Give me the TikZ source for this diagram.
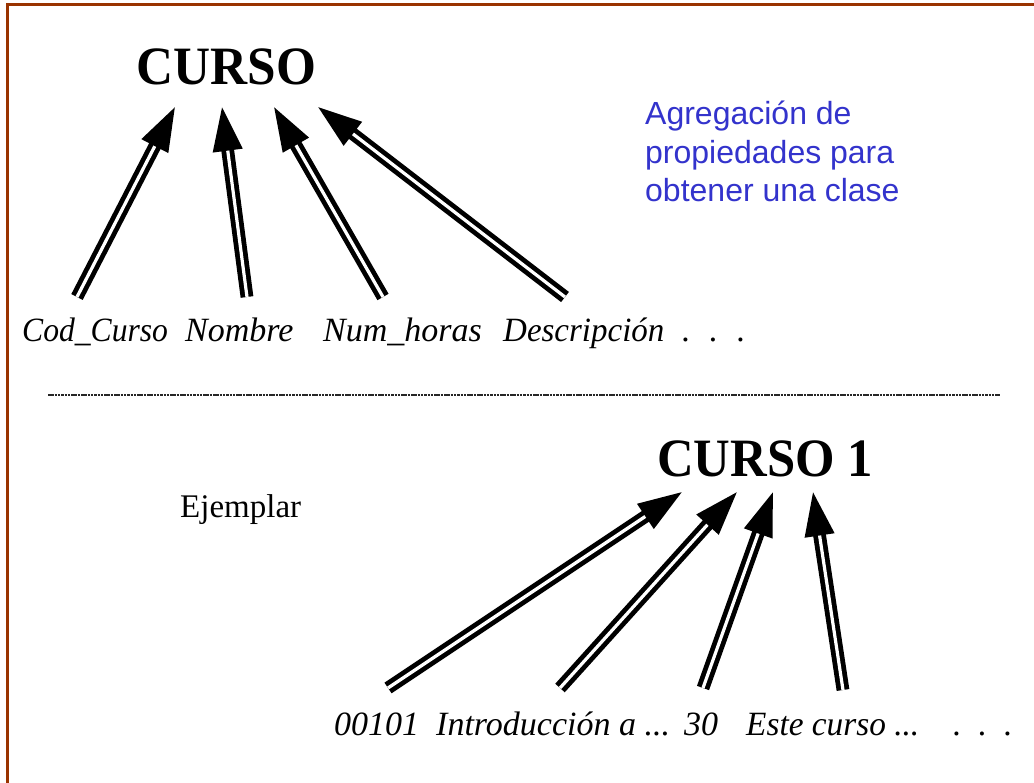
\documentclass[tikz,border=0pt]{standalone}
\usepackage{fontspec}
\setmainfont{Liberation Serif}
\newfontfamily\bluefont{Liberation Sans}
\usetikzlibrary{arrows.meta}
\definecolor{framecol}{RGB}{153,51,0}
\definecolor{bluetxt}{RGB}{51,51,204}
\begin{document}
\begin{tikzpicture}[x=1pt,y=-1pt,
  conn/.style={double, double distance=3.2pt, line width=4.8pt, -{Triangle[length=44pt,width=29pt]}},
  titlefont/.style={font=\fontsize{54}{60}\selectfont\bfseries, inner sep=0, anchor=base},
  lbl/.style={font=\fontsize{34}{40}\selectfont\itshape, inner sep=0, anchor=base west},
  plain/.style={font=\fontsize{33}{40}\selectfont, inner sep=0, anchor=base west}]
\useasboundingbox (0,0) rectangle (1034,783);
\draw[framecol, line width=3pt] (7.3,790) -- (7.3,5) -- (1040,5);

% class
\node[titlefont] (curso) at (226.5,85) {\scalebox{0.95}[1]{CURSO}};
\node[lbl] (cod) at (22,342) {\scalebox{0.93}[1]{Cod\_Curso}};
\node[lbl] (nom) at (185,342) {Nombre};
\node[lbl] (num) at (323,342) {Num\_horas};
\node[lbl] (des) at (503,342) {\scalebox{0.97}[1]{Descripción}};
\node[lbl] (dots1) at (682,342) {.\hspace{19pt}.\hspace{19pt}.};

\coordinate (t1) at (175,107); \coordinate (t2) at (222,107);
\coordinate (t3) at (274,107); \coordinate (t4) at (318,107);
\coordinate (b1) at (77,297);  \coordinate (b2) at (247,297);
\coordinate (b3) at (383,297); \coordinate (b4) at (565,297);
\draw[conn] (b1) -- (t1);
\draw[conn] (b2) -- (t2);
\draw[conn] (b3) -- (t3);
\draw[conn] (b4) -- (t4);

\node[font=\bluefont\fontsize{32}{38.5}\selectfont, text=bluetxt, align=left, inner sep=0, anchor=base west] (note) at (645,202)
  {Agregación de\\propiedades para\\obtener una clase};

% separator
\coordinate (sepL) at (48,395); \coordinate (sepR) at (1000,395);
\draw[black!85, line width=2pt, dash pattern=on 2.5pt off 0.8pt] (sepL) -- (sepR);

% instance
\node[titlefont] (curso1) at (765,477) {\scalebox{0.94}[1]{CURSO 1}};
\node[plain] (ejem) at (180,518) {Ejemplar};
\node[lbl] (v1) at (334,735) {00101};
\node[lbl] (v2) at (436,735) {Introducción a ...};
\node[lbl] (v3) at (684,735) {30};
\node[lbl] (v4) at (746,735) {\scalebox{0.98}[1]{Este curso ...}};
\node[lbl] (dots2) at (953,735) {.\hspace{17pt}.\hspace{17pt}.};

\coordinate (u1) at (682,492); \coordinate (u2) at (737,492);
\coordinate (u3) at (773,492); \coordinate (u4) at (813,492);
\coordinate (d1) at (388,688); \coordinate (d2) at (560,688);
\coordinate (d3) at (703,688); \coordinate (d4) at (843,690);
\draw[conn] (d1) -- (u1);
\draw[conn] (d2) -- (u2);
\draw[conn] (d3) -- (u3);
\draw[conn] (d4) -- (u4);
\end{tikzpicture}
\end{document}
